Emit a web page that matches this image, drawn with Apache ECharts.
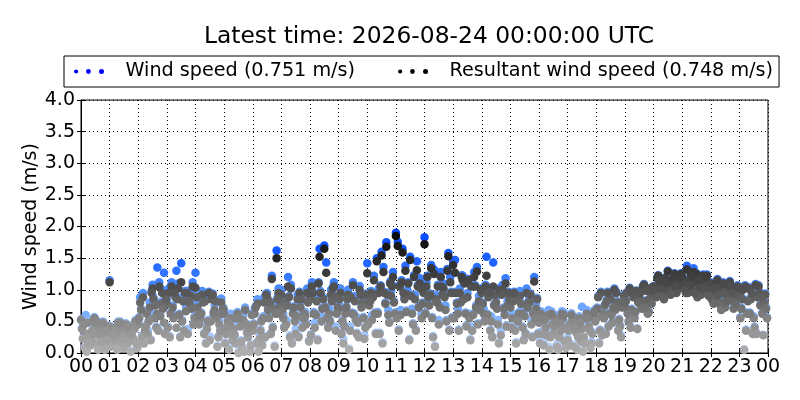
<!DOCTYPE html>
<html><head><meta charset="utf-8">
<script src="https://cdn.jsdelivr.net/npm/echarts@6/dist/echarts.min.js"></script>
<style>html,body{margin:0;padding:0;background:#fff}#c{width:800px;height:400px}</style>
</head><body><div id="c"></div><script>
const titleText = 'Latest time: 2026-08-24 00:00:00 UTC';
const seriesNames = ['Wind speed (0.751 m/s)', 'Resultant wind speed (0.748 m/s)'];
const yAxisName = 'Wind speed (m/s)';
const xTickLabels = ['00','01','02','03','04','05','06','07','08','09','10','11','12','13','14','15','16','17','18','19','20','21','22','23','00'];
const slotMinutes = 10;
const layerOffsetMin = [0, 4, 8, 2, 6];

// Wind speed: 10-minute samples (one row per hour) from five overlaid days
const windDay1 = [
0.53,0.60,0.13,0.45,0.28,0.06, 1.15,0.19,0.41,0.09,0.36,0.23, 0.50,0.95,0.36,1.08,1.35,1.00, 0.85,1.12,1.30,1.42,0.74,0.98,
1.27,0.62,0.90,0.26,0.76,0.52, 0.68,0.10,0.45,0.03,0.60,0.30, 0.42,0.85,0.18,0.95,1.22,1.62, 1.00,0.52,1.08,0.38,0.80,0.65,
0.92,0.48,1.65,1.70,0.70,1.12, 0.78,0.22,1.00,1.12,0.56,0.88, 1.42,0.60,1.50,1.60,1.75,0.98, 1.90,0.68,1.38,1.52,0.92,1.18,
1.83,0.82,1.32,0.52,1.10,1.58, 1.45,0.70,1.22,0.95,0.42,1.36, 1.02,1.52,0.58,0.88,0.36,1.18, 0.80,0.42,0.98,0.66,0.88,1.20,
0.55,0.18,0.68,0.36,0.10,0.62, 0.24,0.58,0.08,0.73,0.68,0.18, 0.57,0.97,0.34,0.87,0.70,0.44, 0.73,1.03,0.56,0.89,1.09,0.66,
1.06,1.23,0.96,1.30,1.13,1.01, 1.21,1.38,1.03,1.26,0.93,1.16, 1.12,0.89,1.08,0.73,1.14,0.96, 0.94,0.06,1.04,0.58,1.07,0.29];
const windDay2 = [
0.24,0.52,0.37,0.18,0.44,0.33, 0.42,0.30,0.15,0.47,0.04,0.52, 0.88,0.42,0.80,0.62,1.12,1.27, 1.02,0.62,1.10,0.90,0.38,1.12,
0.80,0.98,0.45,0.92,0.62,0.86, 0.36,0.62,0.20,0.48,0.72,0.05, 0.70,0.30,0.88,0.62,0.78,1.02, 0.62,1.20,0.70,0.92,0.48,1.02,
1.12,0.90,0.58,1.43,1.00,0.42, 1.02,0.70,0.42,0.90,1.06,0.28, 0.82,1.22,1.02,1.36,0.68,1.28, 1.76,1.65,1.00,0.70,1.45,0.62,
1.12,1.39,0.92,1.28,0.75,1.20, 1.47,1.02,1.18,0.62,1.28,0.90, 0.70,0.95,1.43,0.52,1.08,0.82, 0.62,0.92,0.70,1.02,0.52,0.78,
0.66,0.45,0.30,0.60,0.50,0.22, 0.48,0.13,0.58,0.52,0.45,0.60, 0.90,0.64,0.97,0.50,0.82,0.74, 0.96,0.70,0.99,0.77,0.83,1.03,
0.93,1.11,1.19,1.03,1.26,1.16, 1.07,1.17,1.34,1.00,1.24,1.10, 0.97,1.17,0.92,1.02,0.87,1.04, 0.72,0.37,0.87,1.09,0.77,0.94];
const windDay3 = [
0.10,0.27,0.57,0.34,0.12,0.44, 0.27,0.50,0.32,0.17,0.44,0.10, 0.28,0.64,0.98,0.42,0.81,0.87, 0.64,0.91,0.27,0.98,0.80,0.58,
0.48,0.32,0.97,0.65,0.27,0.72, 0.52,0.22,0.65,0.10,0.34,0.62, 0.17,0.53,0.94,0.32,0.65,0.77, 0.82,0.28,0.52,0.97,0.65,0.20,
0.65,1.12,0.88,0.42,1.04,0.75, 0.52,0.88,0.64,0.32,0.75,0.94, 0.98,0.32,1.07,0.80,1.13,0.64, 1.07,0.88,0.22,1.23,0.74,0.97,
0.90,0.27,1.08,0.94,1.33,0.57, 0.80,1.23,0.44,1.07,0.75,1.02, 1.08,0.37,0.94,1.03,0.62,0.87, 0.97,0.65,0.22,0.82,0.64,0.32,
0.35,0.62,0.50,0.15,0.66,0.45, 0.63,0.35,0.22,0.58,0.12,0.53, 0.37,0.77,0.64,1.02,0.54,0.92, 0.51,0.89,0.81,1.06,0.63,0.96,
1.19,0.91,1.09,1.16,0.96,1.26, 0.97,1.30,1.14,1.07,1.20,1.00, 1.04,0.90,0.97,1.10,0.72,0.90, 1.02,0.84,0.32,0.90,0.64,0.57];
const windDay4 = [
0.40,0.04,0.22,0.52,0.20,0.37, 0.12,0.37,0.50,0.27,0.22,0.40, 0.57,0.18,0.52,0.88,0.37,0.72, 0.42,0.75,0.87,0.52,0.98,0.72,
0.90,0.64,0.17,0.53,0.84,0.37, 0.17,0.47,0.30,0.57,0.04,0.42, 0.47,0.04,0.58,0.70,0.42,0.88, 0.70,0.78,0.17,0.60,0.87,0.48,
0.30,0.62,0.98,0.74,0.52,0.90, 0.87,0.44,0.07,0.63,0.27,0.57, 0.47,0.90,0.65,0.17,0.94,1.08, 0.57,1.15,0.67,0.92,0.37,1.04,
0.64,0.94,0.12,0.75,0.90,0.37, 0.57,0.37,0.88,1.17,0.62,0.47, 0.80,0.62,0.27,0.72,0.95,0.44, 0.42,0.17,0.80,0.32,0.94,0.57,
0.20,0.56,0.10,0.46,0.30,0.64, 0.38,0.51,0.28,0.06,0.58,0.33, 0.72,0.34,0.84,0.62,0.97,0.28, 0.83,0.42,0.66,0.96,0.73,0.86,
1.01,1.16,0.86,0.99,1.21,1.09, 1.14,0.97,1.22,0.92,1.07,1.24, 0.87,1.04,0.70,0.94,1.07,0.80, 0.57,1.07,0.64,0.42,0.97,0.82];
const windDay5 = [
0.47,0.17,0.32,0.07,0.50,0.22, 0.32,0.07,0.24,0.42,0.32,0.17, 0.70,0.44,0.22,0.78,0.60,0.32, 0.27,0.97,0.62,0.37,0.85,0.47,
0.62,0.82,0.52,0.94,0.12,0.64, 0.42,0.32,0.57,0.20,0.47,0.14, 0.74,0.37,0.27,0.82,0.12,0.64, 0.42,0.90,0.74,0.27,0.57,0.82,
0.97,0.22,0.72,0.57,0.84,0.64, 0.32,0.74,0.90,0.54,0.94,0.42, 0.84,0.64,0.32,0.97,0.50,0.82, 0.37,0.97,1.12,0.47,1.07,0.80,
1.22,0.57,0.82,1.07,0.52,0.97, 0.97,0.82,0.64,0.22,1.07,0.70, 0.52,0.97,0.77,0.17,0.72,0.97, 0.84,0.52,0.42,0.74,0.27,0.87,
0.60,0.32,0.66,0.52,0.40,0.12, 0.15,0.44,0.51,0.18,0.38,0.68, 0.17,0.57,0.44,0.74,0.37,0.82, 0.63,0.96,0.39,0.71,0.99,0.79,
0.89,1.03,1.13,0.93,1.06,1.21, 1.02,1.10,0.97,1.17,1.04,0.92, 0.80,0.94,1.12,0.84,0.97,1.07, 0.87,0.64,0.97,0.32,0.90,0.72];

// Resultant wind speed: same samples
const resDay1 = [
0.52,0.31,0.12,0.44,0.27,0.05, 1.12,0.18,0.40,0.08,0.35,0.22, 0.45,0.88,0.30,1.02,0.62,0.95, 0.78,1.05,0.40,1.12,0.66,0.90,
1.03,0.55,0.82,0.20,0.68,0.45, 0.62,0.05,0.38,0.00,0.52,0.25, 0.35,0.78,0.12,0.88,1.17,1.50, 0.92,0.45,1.02,0.30,0.72,0.58,
0.85,0.40,1.52,1.65,0.62,1.05, 0.70,0.15,0.92,1.07,0.48,0.80, 1.26,0.52,1.45,1.54,1.68,0.90, 1.85,0.60,1.30,1.47,0.85,1.10,
1.72,0.75,1.25,0.45,1.02,1.53, 1.39,0.62,1.15,0.88,0.35,1.29, 0.95,1.22,0.50,0.80,0.28,1.10, 0.72,0.35,0.90,0.58,0.80,1.13,
0.48,0.12,0.60,0.30,0.05,0.55, 0.20,0.52,0.05,0.38,0.62,0.15, 0.55,0.95,0.30,0.85,0.68,0.42, 0.72,1.02,0.55,0.88,1.08,0.65,
1.05,1.22,0.95,1.29,1.12,1.00, 1.20,1.32,1.02,1.25,0.92,1.15, 1.10,0.88,1.05,0.72,1.12,0.95, 0.92,0.05,1.02,0.55,1.05,0.28];
const resDay2 = [
0.22,0.48,0.35,0.15,0.40,0.30, 0.40,0.28,0.12,0.45,0.02,0.50, 0.80,0.35,0.72,0.55,1.05,0.48, 0.95,0.55,1.02,0.82,0.30,1.05,
0.72,0.92,0.38,0.85,0.55,0.80, 0.30,0.55,0.15,0.42,0.68,0.02, 0.62,0.22,0.80,0.55,0.70,0.95, 0.55,1.05,0.62,0.85,0.40,0.95,
1.05,0.82,0.50,1.27,0.92,0.35, 0.95,0.62,0.35,0.82,1.00,0.22, 0.75,1.15,0.95,1.28,0.60,1.20, 1.69,1.59,0.92,0.62,1.31,0.55,
1.05,1.34,0.85,1.20,0.68,1.12, 1.27,0.95,1.10,0.55,1.20,0.82, 0.62,0.88,1.05,0.45,1.00,0.75, 0.55,0.85,0.62,0.95,0.45,0.70,
0.62,0.40,0.25,0.55,0.45,0.18, 0.45,0.10,0.55,0.25,0.42,0.58, 0.88,0.62,0.95,0.48,0.80,0.72, 0.95,0.68,0.98,0.75,0.82,1.02,
0.92,1.10,1.18,1.02,1.25,1.15, 1.05,1.15,1.28,0.98,1.22,1.08, 0.95,1.15,0.80,1.00,0.85,1.02, 0.70,0.35,0.85,1.07,0.75,0.92];
const resDay3 = [
0.08,0.25,0.55,0.32,0.10,0.42, 0.25,0.48,0.30,0.15,0.42,0.08, 0.25,0.62,0.95,0.40,0.78,0.85, 0.62,0.88,0.25,0.95,0.78,0.55,
0.45,0.30,0.95,0.62,0.25,0.70, 0.50,0.20,0.62,0.08,0.32,0.60, 0.15,0.50,0.92,0.30,0.62,0.75, 0.80,0.25,0.50,0.95,0.62,0.18,
0.62,1.10,0.85,0.40,1.02,0.72, 0.50,0.85,0.62,0.30,0.72,0.92, 0.95,0.30,1.05,0.78,1.10,0.62, 1.05,0.85,0.20,1.20,0.72,0.95,
0.88,0.25,1.05,0.92,1.30,0.55, 0.78,1.20,0.42,1.05,0.72,1.00, 1.05,0.35,0.92,1.00,0.60,0.85, 0.95,0.62,0.20,0.80,0.62,0.30,
0.30,0.58,0.45,0.10,0.62,0.40, 0.60,0.32,0.18,0.55,0.08,0.50, 0.35,0.75,0.62,1.00,0.52,0.90, 0.50,0.88,0.80,1.05,0.62,0.95,
1.18,0.90,1.08,1.15,0.95,1.25, 0.95,1.25,1.12,1.05,1.18,0.98, 1.02,0.78,0.95,1.08,0.70,0.88, 1.00,0.82,0.30,0.88,0.62,0.55];
const resDay4 = [
0.38,0.02,0.20,0.50,0.18,0.35, 0.10,0.35,0.48,0.25,0.20,0.38, 0.55,0.15,0.50,0.85,0.35,0.70, 0.40,0.72,0.85,0.50,0.95,0.70,
0.88,0.62,0.15,0.50,0.82,0.35, 0.15,0.45,0.28,0.55,0.02,0.40, 0.45,0.02,0.55,0.68,0.40,0.85, 0.68,0.75,0.15,0.58,0.85,0.45,
0.28,0.60,0.95,0.72,0.50,0.88, 0.85,0.42,0.05,0.60,0.25,0.55, 0.45,0.88,0.62,0.15,0.92,1.05, 0.55,1.12,0.65,0.90,0.35,1.02,
0.62,0.92,0.10,0.72,0.88,0.35, 0.55,0.35,0.85,1.15,0.60,0.45, 0.78,0.60,0.25,0.70,0.92,0.42, 0.40,0.15,0.78,0.30,0.92,0.55,
0.15,0.52,0.05,0.42,0.25,0.60, 0.35,0.48,0.25,0.02,0.55,0.30, 0.70,0.28,0.82,0.60,0.95,0.25, 0.82,0.40,0.65,0.95,0.72,0.85,
1.00,1.15,0.85,0.98,1.20,1.08, 1.12,0.95,1.20,0.88,1.05,1.22, 0.85,1.02,0.68,0.92,1.05,0.78, 0.55,1.05,0.62,0.40,0.95,0.80];
const resDay5 = [
0.45,0.15,0.30,0.05,0.48,0.20, 0.30,0.05,0.22,0.40,0.30,0.15, 0.68,0.42,0.20,0.75,0.58,0.30, 0.25,0.95,0.60,0.35,0.82,0.45,
0.60,0.80,0.50,0.92,0.10,0.62, 0.40,0.30,0.55,0.18,0.45,0.12, 0.72,0.35,0.25,0.80,0.10,0.62, 0.40,0.88,0.72,0.25,0.55,0.80,
0.95,0.20,0.70,0.55,0.82,0.62, 0.30,0.72,0.88,0.52,0.92,0.40, 0.82,0.62,0.30,0.95,0.48,0.80, 0.35,0.95,1.10,0.45,1.05,0.78,
1.20,0.55,0.80,1.05,0.50,0.95, 0.95,0.80,0.62,0.20,1.05,0.68, 0.50,0.95,0.75,0.15,0.70,0.95, 0.82,0.50,0.40,0.72,0.25,0.85,
0.55,0.28,0.62,0.48,0.35,0.08, 0.12,0.40,0.48,0.15,0.35,0.65, 0.15,0.55,0.42,0.72,0.35,0.80, 0.62,0.95,0.38,0.70,0.98,0.78,
0.88,1.02,1.12,0.92,1.05,1.20, 1.00,1.08,0.95,1.15,1.02,0.90, 0.78,0.92,1.10,0.82,0.95,1.05, 0.85,0.62,0.95,0.30,0.88,0.70];

function toPoints(days) {
  const pts = [];
  days.forEach(function (vals, d) {
    vals.forEach(function (v, i) {
      pts.push([(i * slotMinutes + layerOffsetMin[d]) / 60, v]);
    });
  });
  return pts;
}
const windPoints = toPoints([windDay1, windDay2, windDay3, windDay4, windDay5]);
const resPoints = toPoints([resDay1, resDay2, resDay3, resDay4, resDay5]);

const FONT = 'DejaVu Sans';
const dotsIcon = 'path://M0,3a2.2,2.2 0 1,0 4.4,0a2.2,2.2 0 1,0 -4.4,0Z M12.5,3a2.5,2.5 0 1,0 5,0a2.5,2.5 0 1,0 -5,0Z M26,3a2.6,2.6 0 1,0 5.2,0a2.6,2.6 0 1,0 -5.2,0Z';

const chart = echarts.init(document.getElementById('c'), null, {renderer: 'canvas'});
chart.setOption({
  animation: false,
  backgroundColor: '#ffffff',
  textStyle: {fontFamily: FONT},
  title: {
    text: titleText, left: 424, top: 20, textAlign: 'center',
    textStyle: {fontFamily: FONT, fontSize: 23.4, fontWeight: 'normal', color: '#000'}
  },
  legend: {
    left: 64, top: 56,
    padding: [6, 6, 6, 10],
    itemGap: 43, itemWidth: 31, itemHeight: 5,
    borderColor: '#000', borderWidth: 1, borderRadius: 0,
    textStyle: {fontFamily: FONT, fontSize: 19.2, color: '#000', padding: [0, 0, 0, 16]},
    data: [
      {name: seriesNames[0], icon: dotsIcon, itemStyle: {color: '#0000ff'}},
      {name: seriesNames[1], icon: dotsIcon, itemStyle: {color: '#000000'}}
    ]
  },
  grid: {left: 81, right: 32, top: 100, bottom: 47, show: true, borderColor: '#000', borderWidth: 1, backgroundColor: 'transparent'},
  xAxis: [{
    type: 'value', min: 0, max: 24, interval: 1,
    axisLine: {show: true, lineStyle: {color: '#000', width: 1}},
    axisTick: {show: true, inside: true, length: 4, lineStyle: {color: '#000'}},
    axisLabel: {fontFamily: FONT, fontSize: 19, color: '#000', margin: 5, formatter: function (v) { return xTickLabels[Math.round(v)]; }},
    splitLine: {show: true, lineStyle: {color: '#000', width: 1, type: [1, 3]}}
  }, {
    type: 'value', min: 0, max: 24, interval: 1, position: 'top',
    axisLine: {show: true, lineStyle: {color: '#000'}},
    axisTick: {show: true, inside: true, length: 4, lineStyle: {color: '#000'}},
    axisLabel: {show: false}, splitLine: {show: false}
  }],
  yAxis: [{
    type: 'value', min: 0, max: 4, interval: 0.5,
    name: yAxisName, nameLocation: 'middle', nameGap: 40, nameRotate: 90, nameMoveOverlap: false,
    nameTextStyle: {fontFamily: FONT, fontSize: 19, color: '#000'},
    axisLine: {show: true, lineStyle: {color: '#000', width: 1}},
    axisTick: {show: true, inside: true, length: 4, lineStyle: {color: '#000'}},
    axisLabel: {fontFamily: FONT, fontSize: 19, color: '#000', margin: 6, formatter: function (v) { return v.toFixed(1); }},
    splitLine: {show: true, lineStyle: {color: '#000', width: 1, type: [1, 3]}}
  }, {
    type: 'value', min: 0, max: 4, interval: 0.5, position: 'right',
    axisLine: {show: true, lineStyle: {color: '#000'}},
    axisTick: {show: true, inside: true, length: 4, lineStyle: {color: '#000'}},
    axisLabel: {show: false}, splitLine: {show: false}
  }],
  visualMap: [
    {type: 'continuous', show: false, seriesIndex: 0, dimension: 1, min: 0, max: 2,
     inRange: {color: ['#c4dbff', '#8ab8ff', '#4a8cff', '#1a5fff', '#0040ff']}},
    {type: 'continuous', show: false, seriesIndex: 1, dimension: 1, min: 0, max: 2,
     inRange: {color: ['#b0b0b0', '#888888', '#525252', '#262626', '#000000']}}
  ],
  series: [
    {name: seriesNames[0], type: 'scatter', data: windPoints, symbolSize: 8.5, itemStyle: {color: '#0000ff', opacity: 1}, z: 2},
    {name: seriesNames[1], type: 'scatter', data: resPoints, symbolSize: 8.5, itemStyle: {color: '#000000', opacity: 1}, z: 3}
  ]
});
</script></body></html>
